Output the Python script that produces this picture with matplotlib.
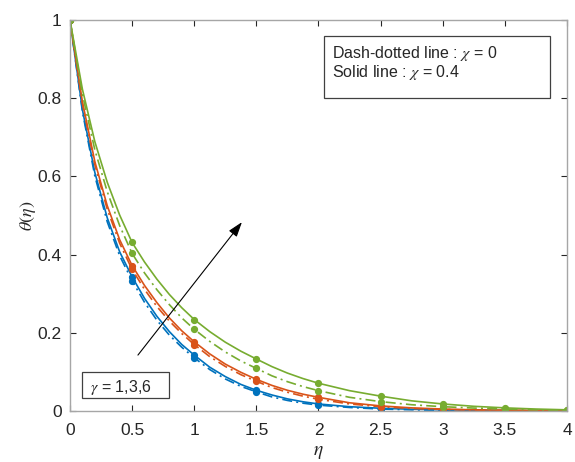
import numpy as np
import matplotlib
matplotlib.use("Agg")
import matplotlib.pyplot as plt
from matplotlib.patches import Rectangle

plt.rcParams['font.family'] = ['Liberation Sans', 'DejaVu Sans']
plt.rcParams['mathtext.fontset'] = 'stix'

# Similarity variable
eta = [0, 0.1, 0.2, 0.3, 0.4, 0.5, 0.6, 0.7, 0.8, 0.9, 1.0,
       1.125, 1.25, 1.375, 1.5, 1.625, 1.75, 1.875, 2.0,
       2.25, 2.5, 2.75, 3.0, 3.25, 3.5, 3.75, 4.0]
marker_eta = [0, 0.5, 1.0, 1.5, 2.0, 2.5, 3.0, 3.5, 4.0]

# Temperature profiles theta(eta); chi = 0.4 (solid) and chi = 0 (dash-dot)
theta_g1_chi04 = [1, 0.771, 0.610, 0.494, 0.407, 0.343, 0.288, 0.242, 0.203, 0.170, 0.143,
                  0.112, 0.088, 0.068, 0.053, 0.041, 0.031, 0.0236, 0.018,
                  0.011, 0.007, 0.0045, 0.003, 0.002, 0.001, 0.0005, 0.0003]
theta_g1_chi0 = [1, 0.766, 0.601, 0.484, 0.397, 0.333, 0.278, 0.232, 0.194, 0.163, 0.136,
                 0.106, 0.082, 0.063, 0.049, 0.036, 0.027, 0.020, 0.015,
                 0.009, 0.005, 0.003, 0.002, 0.001, 0.0007, 0.0004, 0.0002]
theta_g3_chi04 = [1, 0.791, 0.638, 0.525, 0.438, 0.372, 0.321, 0.277, 0.238, 0.205, 0.177,
                  0.146, 0.120, 0.099, 0.081, 0.0655, 0.053, 0.043, 0.035,
                  0.021, 0.013, 0.008, 0.005, 0.003, 0.002, 0.0013, 0.0008]
theta_g3_chi0 = [1, 0.786, 0.630, 0.516, 0.429, 0.362, 0.311, 0.267, 0.230, 0.198, 0.170,
                 0.139, 0.114, 0.093, 0.076, 0.060, 0.048, 0.038, 0.030,
                 0.018, 0.011, 0.0065, 0.004, 0.0025, 0.0015, 0.001, 0.0006]
theta_g6_chi04 = [1, 0.823, 0.689, 0.585, 0.501, 0.431, 0.381, 0.337, 0.298, 0.264, 0.234,
                  0.203, 0.176, 0.153, 0.133, 0.1136, 0.097, 0.083, 0.071,
                  0.052, 0.038, 0.026, 0.018, 0.012, 0.008, 0.005, 0.003]
theta_g6_chi0 = [1, 0.810, 0.668, 0.561, 0.474, 0.403, 0.353, 0.310, 0.272, 0.238, 0.209,
                 0.178, 0.151, 0.128, 0.109, 0.090, 0.075, 0.0625, 0.052,
                 0.035, 0.024, 0.016, 0.011, 0.0075, 0.005, 0.003, 0.002]

colors = ['#0072BD', '#D95319', '#77AC30']
series = [
    (theta_g1_chi04, theta_g1_chi0),
    (theta_g3_chi04, theta_g3_chi0),
    (theta_g6_chi04, theta_g6_chi0),
]

fig = plt.figure(figsize=(5.75, 4.62), dpi=100)
ax = fig.add_axes([0.1217, 0.1104, 0.8643, 0.8463])

eta_arr = np.array(eta)
mask = np.isin(eta_arr, marker_eta)
for (solid, dashdot), c in zip(series, colors):
    s = np.array(solid)
    d = np.array(dashdot)
    ax.plot(eta_arr, d, color=c, lw=1.2, ls=(0, (6, 2.5, 1.2, 2.5)))
    ax.plot(eta_arr[mask], d[mask], 'o', color=c, ms=4.2, mec=c)
    ax.plot(eta_arr, s, color=c, lw=1.2, ls='-')
    ax.plot(eta_arr[mask], s[mask], 'o', color=c, ms=4.2, mec=c)

ax.set_xlim(0, 4)
ax.set_ylim(0, 1)
ax.set_xticks([0, 0.5, 1, 1.5, 2, 2.5, 3, 3.5, 4])
ax.set_xticklabels(['0', '0.5', '1', '1.5', '2', '2.5', '3', '3.5', '4'])
ax.set_yticks([0, 0.2, 0.4, 0.6, 0.8, 1])
ax.set_yticklabels(['0', '0.2', '0.4', '0.6', '0.8', '1'])
ax.tick_params(direction='in', length=4, width=0.8, color='#262626',
               labelsize=12.5, labelcolor='#262626', top=True, right=True)
ax.tick_params(axis='x', pad=9)
ax.tick_params(axis='y', pad=6)
for sp in ax.spines.values():
    sp.set_color('#A6A6A6')
    sp.set_linewidth(1.0)

ax.set_xlabel(r'$\eta$', fontsize=14, color='#262626', labelpad=4)
ax.set_ylabel(r'$\theta(\eta)$', fontsize=13, color='#262626', labelpad=0)

# Direction of increasing gamma
ax.annotate('', xy=(1.384, 0.483), xytext=(0.547, 0.143),
            arrowprops=dict(arrowstyle='-|>,head_length=0.9,head_width=0.3',
                            color='black', lw=0.8, shrinkA=0, shrinkB=0))

# Parameter box
ax.add_patch(Rectangle((0.094, 0.0335), 0.705, 0.067, fc='white',
                       ec='#404040', lw=0.9, zorder=5))
ax.text(0.161, 0.061, r'$\gamma$ = 1,3,6', fontsize=11.5, color='#262626',
        va='center', ha='left', zorder=6)

# Line style key
ax.add_patch(Rectangle((2.044, 0.8005), 1.819, 0.1585, fc='white',
                       ec='#404040', lw=0.9, zorder=5))
ax.text(2.109, 0.9156, 'Dash-dotted line : $\\chi$ = 0', fontsize=11.5,
        color='#262626', va='center', ha='left', zorder=6)
ax.text(2.109, 0.8645, 'Solid line : $\\chi$ = 0.4', fontsize=11.5,
        color='#262626', va='center', ha='left', zorder=6)

fig.savefig('out.png', dpi=100)
